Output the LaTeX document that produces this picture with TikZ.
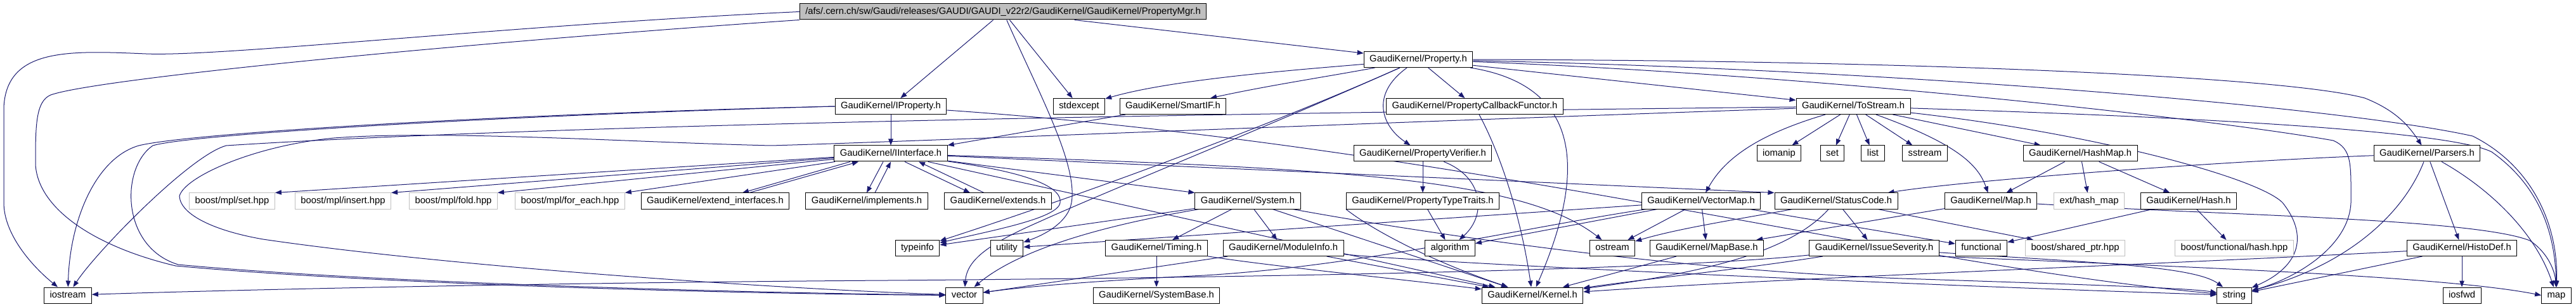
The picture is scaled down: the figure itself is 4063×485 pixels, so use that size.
\documentclass[tikz,border=0pt]{standalone}
\usepackage{fontspec}
\setmainfont{Liberation Sans}
\usetikzlibrary{arrows.meta,backgrounds}
\definecolor{edgeblue}{RGB}{25,25,112}

\begin{document}
\begin{tikzpicture}[
    x=1bp, y=-1bp,
    box/.style={rectangle, draw=black, fill=white, line width=1bp, minimum height=25bp, inner xsep=9bp, text height=10.6bp, text depth=3.1bp, font=\fontsize{14.8bp}{17bp}\selectfont},
    missing/.style={box, draw=gray!50},
    main/.style={box, fill=gray!50},
    arrow/.style={draw=edgeblue, line width=1bp, -{Triangle[length=10bp, width=7.5bp]}}
]
\useasboundingbox (0,0) rectangle (4063,485);

% Top file
\node[main] (root) at (1582,18.5) {/afs/.cern.ch/sw/Gaudi/releases/GAUDI/GAUDI\_v22r2/GaudiKernel/GaudiKernel/PropertyMgr.h};
\node[box] (property) at (2237,94) {GaudiKernel/Property.h};

% Row 2
\node[box] (iproperty) at (1405,168) {GaudiKernel/IProperty.h};
\node[box] (stdexcept) at (1702,168) {stdexcept};
\node[box] (smartif) at (1850,168) {GaudiKernel/SmartIF.h};
\node[box] (prop_cb) at (2326,168) {GaudiKernel/PropertyCallbackFunctor.h};
\node[box] (tostream) at (2923,168) {GaudiKernel/ToStream.h};

% Row 3
\node[box] (iinterface) at (1405,242.5) {GaudiKernel/IInterface.h};
\node[box] (prop_verifier) at (2244,242.5) {GaudiKernel/PropertyVerifier.h};
\node[box] (iomanip) at (2806,242.5) {iomanip};
\node[box] (std_set) at (2890,242.5) {set};
\node[box] (std_list) at (2954,242.5) {list};
\node[box] (sstream) at (3036,242.5) {sstream};
\node[box] (hashmap) at (3281,242.5) {GaudiKernel/HashMap.h};
\node[box] (parsers) at (3828,242.5) {GaudiKernel/Parsers.h};

% Row 4
\node[missing] (mpl_set) at (366,317.5) {boost/mpl/set.hpp};
\node[missing] (mpl_insert) at (541,317.5) {boost/mpl/insert.hpp};
\node[missing] (mpl_fold) at (715,317.5) {boost/mpl/fold.hpp};
\node[missing] (mpl_foreach) at (899,317.5) {boost/mpl/for\_each.hpp};
\node[box] (extend_if) at (1128,317.5) {GaudiKernel/extend\_interfaces.h};
\node[box] (implements) at (1367,317.5) {GaudiKernel/implements.h};
\node[box] (extends) at (1574,317.5) {GaudiKernel/extends.h};
\node[box] (system) at (1968,317.5) {GaudiKernel/System.h};
\node[box] (prop_traits) at (2244,317.5) {GaudiKernel/PropertyTypeTraits.h};
\node[box] (vectormap) at (2683,317.5) {GaudiKernel/VectorMap.h};
\node[box] (statuscode) at (2896,317.5) {GaudiKernel/StatusCode.h};
\node[box] (gk_map) at (3140,317.5) {GaudiKernel/Map.h};
\node[missing] (ext_hashmap) at (3295,317.5) {ext/hash\_map};
\node[box] (hash) at (3452,317.5) {GaudiKernel/Hash.h};

% Row 5
\node[box] (typeinfo) at (1447,392) {typeinfo};
\node[box] (utility) at (1588,392) {utility};
\node[box] (timing) at (1824,392) {GaudiKernel/Timing.h};
\node[box] (moduleinfo) at (2024,392) {GaudiKernel/ModuleInfo.h};
\node[box] (algorithm) at (2287,392) {algorithm};
\node[box] (ostream) at (2543,392) {ostream};
\node[box] (mapbase) at (2692,392) {GaudiKernel/MapBase.h};
\node[box] (issueseverity) at (2956,392) {GaudiKernel/IssueSeverity.h};
\node[box] (functional) at (3125,392) {functional};
\node[missing] (shared_ptr) at (3273,392) {boost/shared\_ptr.hpp};
\node[missing] (func_hash) at (3524,392) {boost/functional/hash.hpp};
\node[box] (histodef) at (3883,392) {GaudiKernel/HistoDef.h};

% Bottom row
\node[box] (iostream) at (107,466.5) {iostream};
\node[box] (vector) at (1521,466.5) {vector};
\node[box] (systembase) at (1824,466.5) {GaudiKernel/SystemBase.h};
\node[box] (kernel) at (2417,466.5) {GaudiKernel/Kernel.h};
\node[box] (string) at (3524,466.5) {string};
\node[box] (iosfwd) at (3883,466.5) {iosfwd};
\node[box] (std_map) at (4032,466.5) {map};

\begin{scope}[on background layer]
% Includes of the top file
\draw[arrow] (root) -- (iproperty);
\draw[arrow] (root) .. controls (1640,150) and (1700,260) .. (1690,320) .. controls (1685,350) and (1650,370) .. (utility);
\draw[arrow] (root) -- (stdexcept);
\draw[arrow] (root) -- (property);
\draw[arrow] (root.west) .. controls (800,40) and (350,90) .. (230,85) .. controls (110,80) and (10,75) .. (6,170) -- (6,320) .. controls (6,370) and (50,420) .. (iostream);
\draw[arrow] (root.south west) .. controls (700,70) and (150,125) .. (80,150) .. controls (56,160) and (56,200) .. (56,260) .. controls (60,330) and (150,390) .. (277,420) .. controls (600,450) and (1200,465) .. (vector);

% IProperty
\draw[arrow] (iproperty) -- (iinterface);
\draw[arrow] (iproperty.west) .. controls (800,180) and (300,210) .. (219,230) .. controls (150,250) and (110,350) .. (iostream);
\draw[arrow] (iproperty.west) .. controls (800,182) and (300,212) .. (241,230) .. controls (190,265) and (190,390) .. (281,418) .. controls (600,448) and (1200,463) .. (vector);
\draw[arrow] (iproperty) .. controls (2300,230) and (3000,420) .. (string);

% IInterface
\draw[arrow] (iinterface) -- (mpl_set.north east);
\draw[arrow] (iinterface) -- (mpl_insert.north east);
\draw[arrow] (iinterface) -- (mpl_fold.north east);
\draw[arrow] (iinterface) -- (mpl_foreach.north east);
\draw[arrow] ([xshift=-64bp]iinterface.south) -- ([xshift=43bp]extend_if.north);
\draw[arrow] ([xshift=54bp]extend_if.north) -- ([xshift=-51bp]iinterface.south);
\draw[arrow] ([xshift=-12bp]iinterface.south) -- (implements.north);
\draw[arrow] ([xshift=13bp]implements.north) -- (iinterface.south);
\draw[arrow] ([xshift=22bp]iinterface.south) -- ([xshift=-44bp]extends.north);
\draw[arrow] ([xshift=-22bp]extends.north) -- ([xshift=44bp]iinterface.south);
\draw[arrow] (iinterface) -- (system.north west);
\draw[arrow] (iinterface) .. controls (1640,275) and (1675,300) .. (1672,320) .. controls (1670,345) and (1560,365) .. (typeinfo);
\draw[arrow] (iinterface) -- (kernel);
\draw[arrow] (iinterface) -- (statuscode.north west);
\draw[arrow] (iinterface) .. controls (2100,265) and (2400,280) .. (ostream);
\draw[arrow] (smartif) -- (iinterface.north east);

% System, Timing, ModuleInfo
\draw[arrow] (system) -- (timing);
\draw[arrow] (system) -- (moduleinfo);
\draw[arrow] (system) -- (typeinfo);
\draw[arrow] (system) .. controls (1717,360) and (1600,400) .. (vector);
\draw[arrow] (system) -- (kernel);
\draw[arrow] (system) .. controls (2200,360) and (2600,425) .. (3000,440) .. controls (3300,450) and (3450,455) .. (string);
\draw[arrow] (timing) -- (systembase);
\draw[arrow] (timing) .. controls (2000,420) and (2200,440) .. (kernel);
\draw[arrow] (moduleinfo) -- (vector);
\draw[arrow] (moduleinfo) -- (kernel);
\draw[arrow] (moduleinfo) .. controls (2250,415) and (3000,450) .. (string);

% Property
\draw[arrow] (property) .. controls (2050,110) and (1850,125) .. (stdexcept);
\draw[arrow] (property) .. controls (2100,120) and (2000,135) .. (smartif);
\draw[arrow] (property) .. controls (2000,200) and (1750,300) .. (1640,350) .. controls (1560,385) and (1525,410) .. (vector);
\draw[arrow] (property) .. controls (2000,200) and (1700,310) .. (typeinfo);
\draw[arrow] (property) .. controls (2160,150) and (2180,200) .. (prop_verifier);
\draw[arrow] (property) -- (prop_cb);
\draw[arrow] (property) .. controls (2464,130) and (2520,230) .. (kernel);
\draw[arrow] (property) -- (tostream);
\draw[arrow] (property) .. controls (3000,95) and (3600,120) .. (3730,155) .. controls (3780,175) and (3800,200) .. (parsers);
\draw[arrow] (property) .. controls (3000,110) and (3700,170) .. (3900,215) .. controls (3990,260) and (4035,350) .. (std_map);
\draw[arrow] (property) .. controls (2900,120) and (3500,190) .. (3680,222) .. controls (3710,235) and (3708,260) .. (3708,320) .. controls (3705,390) and (3620,440) .. (string);
\draw[arrow] (prop_cb) .. controls (2370,250) and (2400,350) .. (kernel);
\draw[arrow] (prop_verifier) -- (prop_traits);
\draw[arrow] (prop_verifier) .. controls (2340,280) and (2345,340) .. (algorithm);
\draw[arrow] (prop_traits) -- (algorithm);
\draw[arrow] (prop_traits.south west) .. controls (2160,360) and (2250,410) .. (kernel);

% ToStream
\draw[arrow] (tostream) .. controls (2000,178) and (900,195) .. (357,230) .. controls (300,245) and (150,400) .. (iostream);
\draw[arrow] (tostream) .. controls (2000,200) and (1400,225) .. (1216,230) .. controls (1000,225) and (700,205) .. (527,218) .. controls (400,230) and (290,280) .. (283,310) .. controls (285,340) and (340,365) .. (415,378) .. controls (700,420) and (1200,455) .. (vector);
\draw[arrow] (tostream) -- (iomanip);
\draw[arrow] (tostream) -- (std_set);
\draw[arrow] (tostream) -- (std_list);
\draw[arrow] (tostream) -- (sstream);
\draw[arrow] (tostream) -- (hashmap);
\draw[arrow] (tostream) .. controls (3086,227) and (3120,260) .. (gk_map);
\draw[arrow] (tostream) .. controls (2774,212) and (2720,250) .. (vectormap);
\draw[arrow] (tostream) .. controls (3300,180) and (3850,200) .. (3930,240) .. controls (4000,290) and (4030,360) .. (std_map);
\draw[arrow] (tostream) .. controls (3300,210) and (3560,280) .. (3600,320) .. controls (3640,370) and (3630,420) .. (string);

% HashMap, Map, Hash
\draw[arrow] (hashmap) -- (gk_map);
\draw[arrow] (hashmap) -- (ext_hashmap);
\draw[arrow] (hashmap) -- (hash);
\draw[arrow] (gk_map) -- (mapbase);
\draw[arrow] (gk_map) .. controls (3500,340) and (3900,345) .. (3990,380) .. controls (4020,400) and (4030,430) .. (std_map);
\draw[arrow] (hash) -- (func_hash);
\draw[arrow] (hash) -- (functional);

% VectorMap, MapBase
\draw[arrow] (vectormap) -- (utility);
\draw[arrow] (vectormap) .. controls (2400,360) and (2150,420) .. (1900,435) .. controls (1700,445) and (1600,455) .. (vector);
\draw[arrow] (vectormap) -- (algorithm);
\draw[arrow] (vectormap) -- (ostream);
\draw[arrow] (vectormap) -- (mapbase);
\draw[arrow] (vectormap) -- (functional);
\draw[arrow] (mapbase) -- (kernel);

% StatusCode, IssueSeverity
\draw[arrow] (statuscode) .. controls (2830,390) and (2720,427) .. (kernel);
\draw[arrow] (statuscode) -- (issueseverity);
\draw[arrow] (statuscode) -- (shared_ptr);
\draw[arrow] (statuscode) .. controls (2750,345) and (2650,360) .. (ostream);
\draw[arrow] (issueseverity) .. controls (2600,430) and (1800,440) .. (1400,443) .. controls (800,447) and (300,460) .. (iostream);
\draw[arrow] (issueseverity) .. controls (2750,425) and (2600,440) .. (kernel);
\draw[arrow] (issueseverity) .. controls (3300,415) and (3460,420) .. (string);
\draw[arrow] (issueseverity.south east) .. controls (3400,420) and (3850,435) .. (std_map.west);

% Parsers, HistoDef
\draw[arrow] (parsers) .. controls (3500,255) and (3100,285) .. (statuscode);
\draw[arrow] (parsers) .. controls (3790,340) and (3700,420) .. (string);
\draw[arrow] (parsers) -- (histodef);
\draw[arrow] (parsers) .. controls (3930,300) and (4000,370) .. (std_map);
\draw[arrow] (histodef) -- (iosfwd);
\draw[arrow] (histodef) -- (string);
\draw[arrow] (histodef) .. controls (3400,418) and (2800,440) .. (kernel);
\end{scope}

\end{tikzpicture}
\end{document}
